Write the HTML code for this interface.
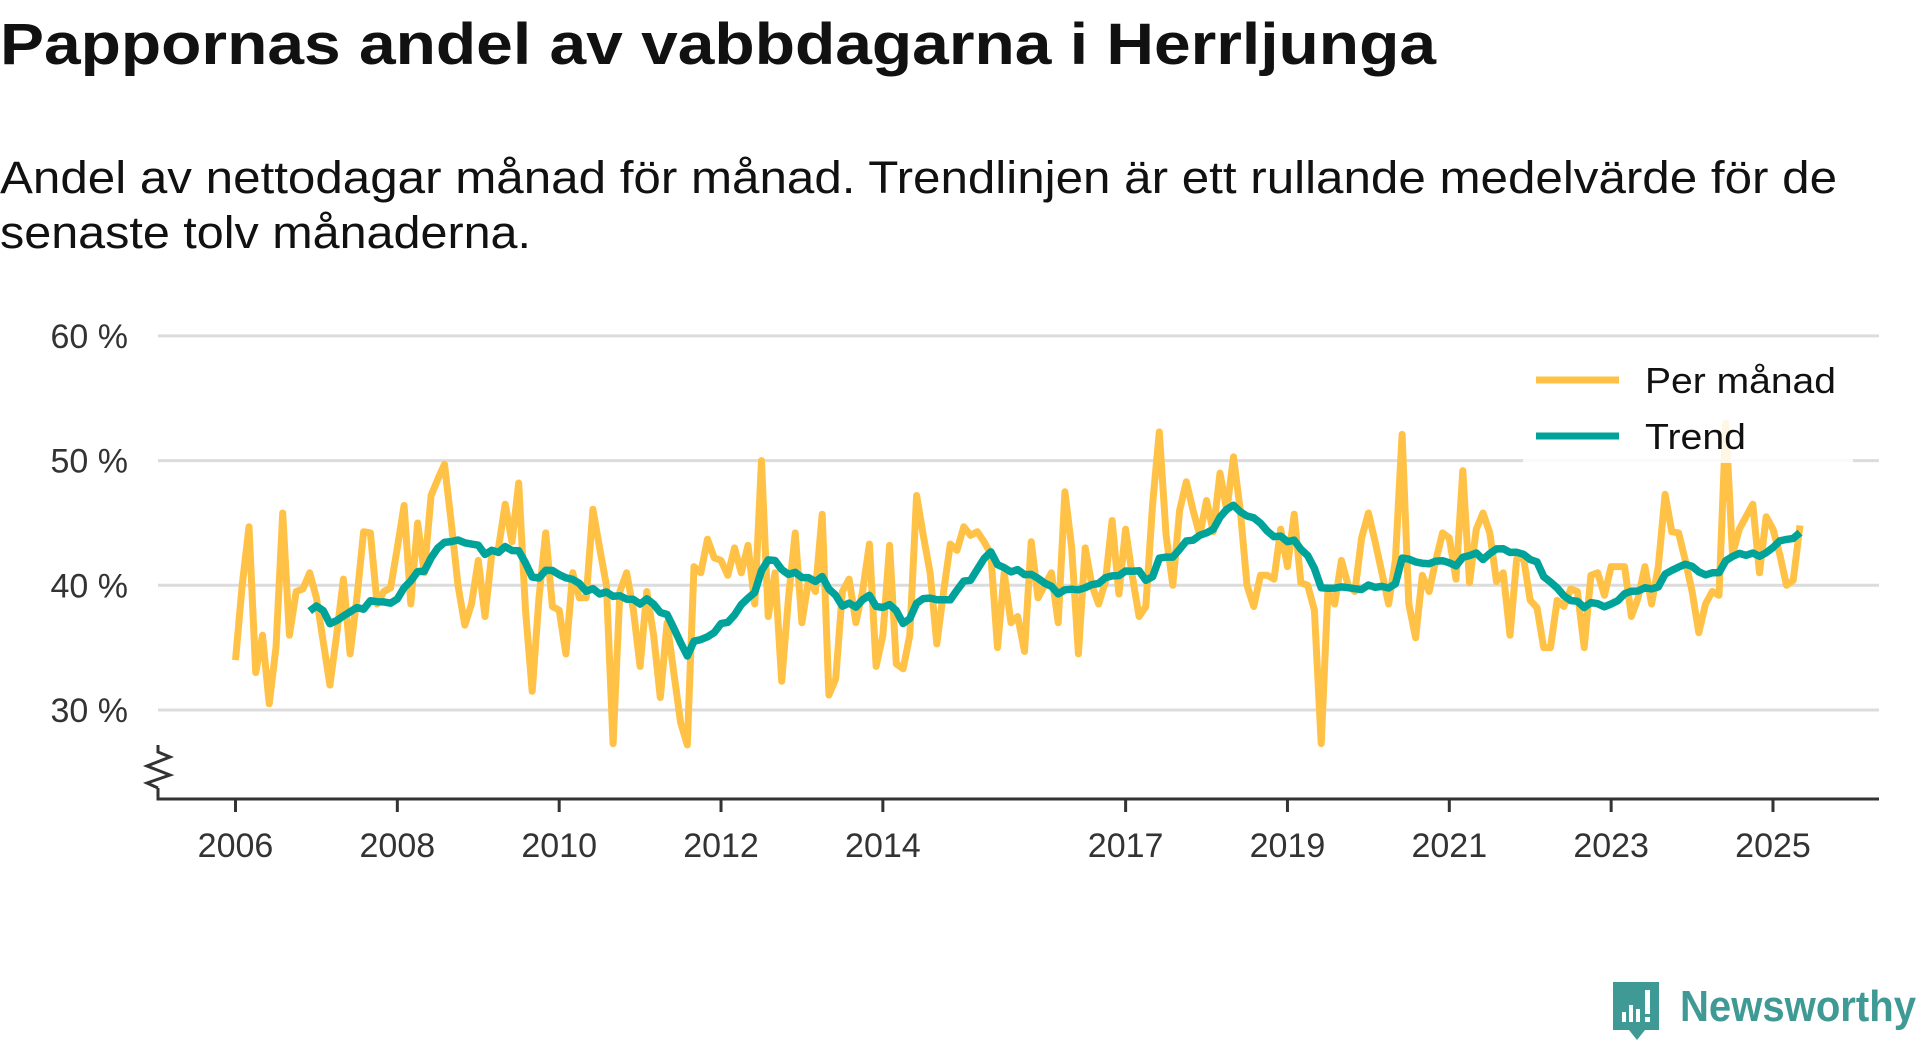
<!DOCTYPE html>
<html><head><meta charset="utf-8"><style>
html,body{margin:0;padding:0;background:#fff;width:1920px;height:1040px;overflow:hidden}
svg{display:block;font-family:"Liberation Sans","DejaVu Sans",sans-serif}
</style></head><body>
<svg id="chart" width="1920" height="1040" viewBox="0 0 1920 1040" xmlns="http://www.w3.org/2000/svg">
<text x="0" y="64" font-size="58" font-weight="bold" fill="#111" textLength="1436" lengthAdjust="spacingAndGlyphs">Pappornas andel av vabbdagarna i Herrljunga</text>
<text x="0" y="193" font-size="45" fill="#111" textLength="1837" lengthAdjust="spacingAndGlyphs">Andel av nettodagar månad för månad. Trendlinjen är ett rullande medelvärde för de</text>
<text x="0" y="248" font-size="45" fill="#111" textLength="531" lengthAdjust="spacingAndGlyphs">senaste tolv månaderna.</text>
<g id="grid"></g>
<g id="yaxis"></g>
<g id="xaxis"></g>
<g id="series"></g>
<g id="legend">
<rect x="1523" y="350" width="330" height="113" fill="#fff" fill-opacity="0.85"/>
<line x1="1536" y1="380" x2="1619" y2="380" stroke="#ffc247" stroke-width="7"/>
<text x="1645" y="393" font-size="36" fill="#111" textLength="191" lengthAdjust="spacingAndGlyphs">Per månad</text>
<line x1="1536" y1="436" x2="1619" y2="436" stroke="#00a39a" stroke-width="7"/>
<text x="1645" y="449" font-size="36" fill="#111" textLength="101" lengthAdjust="spacingAndGlyphs">Trend</text>
</g>
<g>
<path d="M1613 982 h46 v48 h-14 l-8 10 l-8 -10 h-16 z" fill="#3f9a95"/>
<rect x="1622" y="1012" width="4" height="10" fill="#fff"/>
<rect x="1629" y="1005" width="4" height="17" fill="#fff"/>
<rect x="1636" y="1009" width="4" height="13" fill="#fff"/>
<rect x="1645" y="990" width="5" height="24" fill="#fff"/>
<rect x="1645" y="1017" width="5" height="5" fill="#fff"/>
<text x="1680" y="1021" font-size="44" font-weight="bold" fill="#3f9a95" textLength="236" lengthAdjust="spacingAndGlyphs">Newsworthy</text>
</g>
</svg>
<script>
const startYear = 2006;
const monthly = [
34,40,44.7,33,36,30.5,35,45.8,36,39.5,39.7,41,
39,35.5,32,36,40.5,34.5,39,44.3,44.2,38.5,39.5,39.8,
43,46.4,38.5,45,41,47.2,48.5,49.7,45,40,36.8,38.5,
42,37.5,42.5,43,46.5,43.5,48.2,38,31.5,39,44.2,38.3,
38,34.5,41,39,39,46.1,43,40,27.3,39.5,41,38,
33.5,39.5,36,31,37,33,29,27.2,41.5,41,43.7,42.2,
42,40.8,43,41,43.2,38.5,50,37.5,41,32.3,39,44.2,
37,40.5,39.5,45.7,31.2,32.5,39.5,40.5,37,39.5,43.3,33.5,
36,43.2,33.7,33.3,36,47.2,44,41,35.3,39.5,43.3,42.8,
44.7,44,44.3,43.5,42.5,35,41,37,37.5,34.7,43.5,39,
40,41,37,47.5,43,34.5,43,40,38.5,40.3,45.2,39.3,
44.5,40.7,37.5,38.3,46.5,52.3,44,40,46,48.3,46,44,
46.8,44.3,49,46,50.3,46,40,38.3,40.8,40.8,40.5,44.5,
41.5,45.7,40.2,40,38,27.3,39.5,38.5,42,40,39.5,43.8,
45.8,43.5,41,38.5,42,52.1,38.5,35.8,40.8,39.5,42,44.2,
43.8,40.5,49.2,40.2,44.5,45.8,44.2,40.3,41,36,42.1,42.2,
38.8,38.2,35,35,38.8,38.3,39.7,39.5,35,40.8,41,39.2,
41.5,41.5,41.5,37.5,39,41.5,38.5,41.5,47.3,44.3,44.2,42,
39.5,36.2,38.5,39.5,39.2,53,42.5,44.5,45.5,46.5,41,45.5,
44.5,42.5,40,40.4,44.8
];
const yTicks = [30,40,50,60];
const yTickLabels = ["30 %","40 %","50 %","60 %"];
const xTicks = [2006,2008,2010,2012,2014,2017,2019,2021,2023,2025];
const trendWindow = 12;

const NS = "http://www.w3.org/2000/svg";
const X0 = 235.5, PER_YEAR = 80.92;
const xScale = t => X0 + (t - startYear) * PER_YEAR;
const xMonth = i => xScale(startYear + i / 12);
const yScale = v => 710 - (v - 30) * 12.47;
function mk(tag, attrs, parent){const e=document.createElementNS(NS,tag);for(const k in attrs)e.setAttribute(k,attrs[k]);parent.appendChild(e);return e;}

const grid = document.getElementById('grid'), yaxis = document.getElementById('yaxis'), xaxis = document.getElementById('xaxis'), series = document.getElementById('series');
yTicks.forEach((v,i)=>{
  const g = mk('line',{x1:158,x2:1879,y1:yScale(v),y2:yScale(v),stroke:'#dcdcdc','stroke-width':3},grid);
  
  
  const t = mk('text',{x:128,y:yScale(v)+12,'text-anchor':'end','font-size':34,fill:'#333'},yaxis);
  t.textContent = yTickLabels[i];
  
  
});
const axl = mk('path',{d:'M158 788 V799 H1879',fill:'none',stroke:'#333','stroke-width':3},xaxis);


const brk = mk('path',{d:'M158 745 V752 L170 757 L147 766 L170 775 L147 783 L158 788',fill:'none',stroke:'#333','stroke-width':3},xaxis);


xTicks.forEach(yr=>{
  const x = xScale(yr);
  const tk = mk('line',{x1:x,x2:x,y1:799,y2:812,stroke:'#333','stroke-width':3},xaxis);
  
  
  const t = mk('text',{x:x,y:857,'text-anchor':'middle','font-size':34,fill:'#333'},xaxis);
  t.textContent = yr;
  
  
});
const mPts = monthly.map((v,i)=>xMonth(i).toFixed(1)+','+yScale(v).toFixed(1)).join(' ');
const ml = mk('polyline',{points:mPts,fill:'none',stroke:'#ffc247','stroke-width':7,'stroke-linejoin':'round'},series);


const tPts = [];
for(let i=trendWindow-1;i<monthly.length;i++){
  let s=0;for(let j=i-trendWindow+1;j<=i;j++)s+=monthly[j];
  tPts.push(xMonth(i).toFixed(1)+','+yScale(s/trendWindow).toFixed(1));
}
const tl = mk('polyline',{points:tPts.join(' '),fill:'none',stroke:'#00a39a','stroke-width':7.5,'stroke-linejoin':'round'},series);


</script>
</body></html>
